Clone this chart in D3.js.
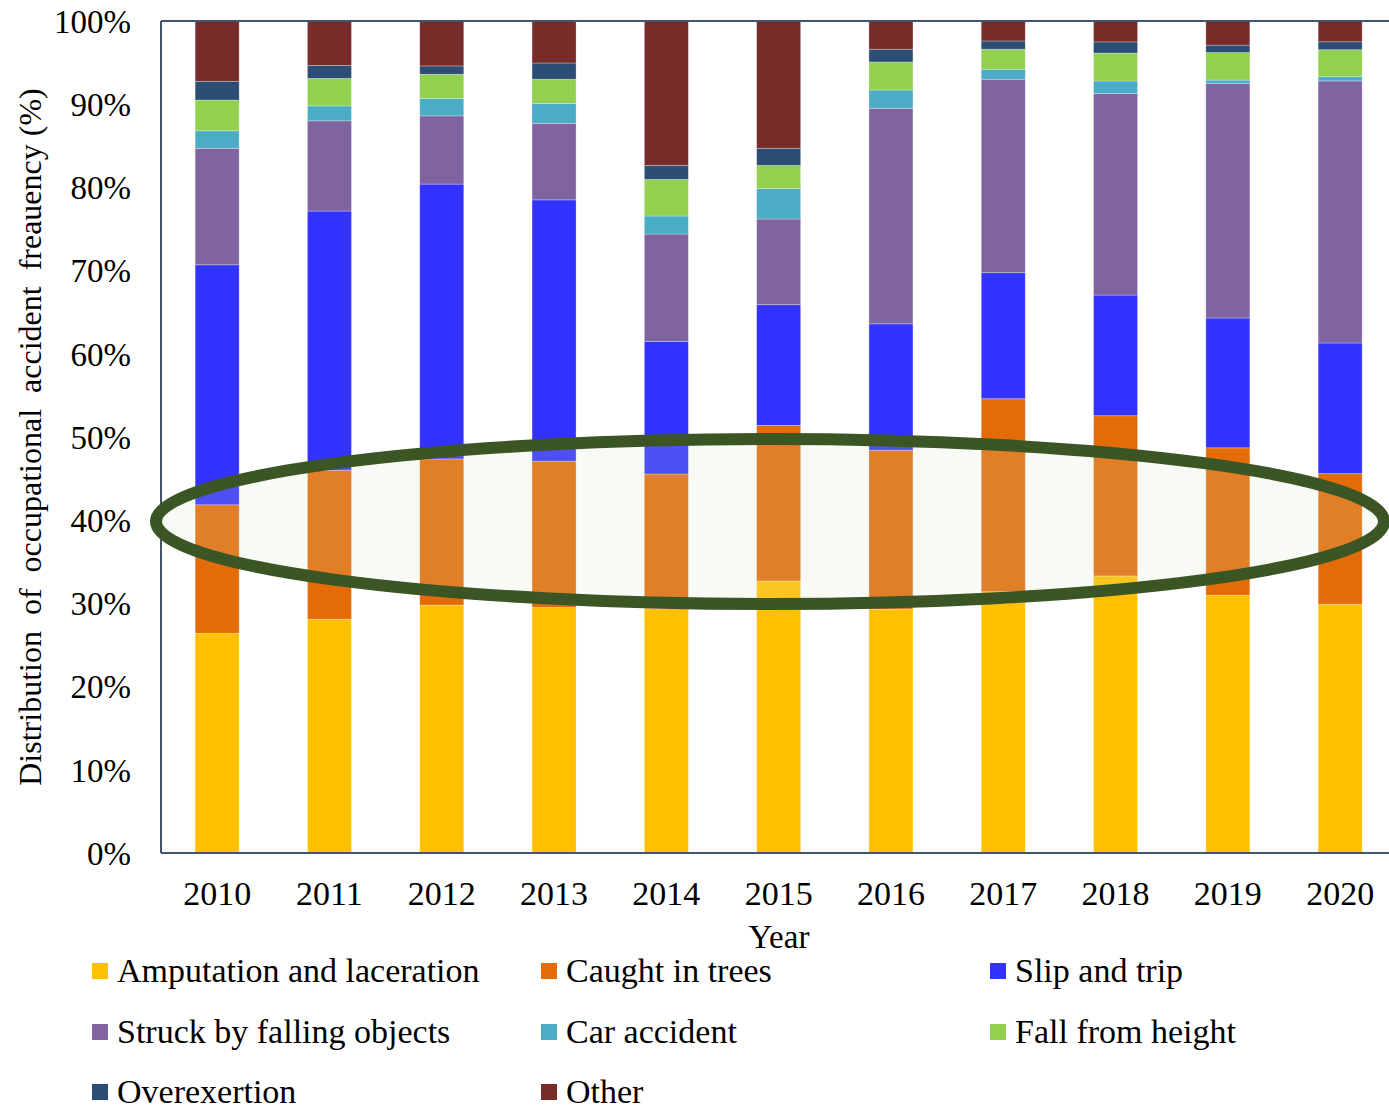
<!DOCTYPE html>
<html>
<head>
<meta charset="utf-8">
<script src="https://cdn.jsdelivr.net/npm/d3@7"></script>
<style>
  html, body { margin: 0; padding: 0; background: #ffffff; }
  svg { display: block; }
  text { font-family: "Liberation Serif", "Times New Roman", serif; fill: #000; }
</style>
</head>
<body>
<svg id="chart" width="1389" height="1109"></svg>
<script>
// ---- data (percent of accidents per year) ----
const years = ["2010","2011","2012","2013","2014","2015","2016","2017","2018","2019","2020"];
const seriesNames = ["Amputation and laceration","Caught in trees","Slip and trip","Struck by falling objects","Car accident","Fall from height","Overexertion","Other"];
const seriesColors = ["#ffc000","#e36c09","#3333ff","#8064a2","#4bacc6","#92d050","#2c4d75","#772c2a"];

const amputation = [26.4, 28.1, 29.8, 29.5, 29.4, 32.7, 29.3, 31.4, 33.3, 31.0, 29.9];
const caughtInTrees = [15.45, 17.9, 17.56, 17.6, 16.15, 18.7, 19.1, 23.2, 19.26, 17.7, 15.7];
const slipAndTrip = [28.85, 31.16, 33.04, 31.4, 15.95, 14.5, 15.2, 15.15, 14.5, 15.6, 15.7];
const struckByObjects = [14.0, 10.84, 8.2, 9.2, 12.9, 10.3, 25.9, 23.25, 24.23, 28.2, 31.5];
const carAccident = [2.1, 1.8, 2.1, 2.4, 2.16, 3.65, 2.2, 1.2, 1.5, 0.4, 0.5];
const fallFromHeight = [3.7, 3.3, 2.9, 2.9, 4.4, 2.8, 3.37, 2.4, 3.35, 3.3, 3.25];
const overexertion = [2.25, 1.56, 1.0, 1.95, 1.69, 2.05, 1.53, 1.0, 1.35, 0.9, 0.95];
const other = [7.25, 5.34, 5.4, 5.05, 17.35, 15.3, 3.4, 2.4, 2.5, 2.9, 2.5];

const yTicks = [0,10,20,30,40,50,60,70,80,90,100];
const xTitle = "Year";
const yTitle = "Distribution  of  occupational  accident  freauency (%)";

// ---- build table ----
const seriesValues = [amputation, caughtInTrees, slipAndTrip, struckByObjects, carAccident, fallFromHeight, overexertion, other];
const table = years.map((y, i) => {
  const row = { year: y };
  seriesNames.forEach((s, k) => { row[s] = seriesValues[k][i]; });
  return row;
});

const svg = d3.select("#chart");
const plot = { left: 161, right: 1396.3, top: 21, bottom: 853 };

const x = d3.scaleBand().domain(years).range([plot.left, plot.right])
  .paddingInner(0.608).paddingOuter(0.304);
const y = d3.scaleLinear().domain([0, 100]).range([plot.bottom, plot.top]);
const color = d3.scaleOrdinal().domain(seriesNames).range(seriesColors);

const stacked = d3.stack().keys(seriesNames)(table);

// bars
svg.append("g").selectAll("g").data(stacked).join("g")
  .attr("fill", d => color(d.key))
  .selectAll("rect").data(d => d).join("rect")
  .attr("x", d => x(d.data.year))
  .attr("width", x.bandwidth())
  .attr("y", d => y(d[1]))
  .attr("height", d => y(d[0]) - y(d[1]))
  .attr("stroke", "rgba(255,255,255,0.35)")
  .attr("stroke-width", 0.8);

// frame
const frame = svg.append("g").attr("stroke", "#44546a").attr("stroke-width", 2).attr("fill", "none");
frame.append("line").attr("x1", plot.left).attr("x2", 1389).attr("y1", plot.top).attr("y2", plot.top);
frame.append("line").attr("x1", plot.left).attr("x2", 1389).attr("y1", plot.bottom).attr("y2", plot.bottom);
frame.append("line").attr("x1", plot.left).attr("x2", plot.left).attr("y1", plot.top).attr("y2", plot.bottom);

// y axis
const yAxis = d3.axisLeft(y).tickValues(yTicks).tickFormat(d => d + "%").tickSize(0).tickPadding(30);
const gy = svg.append("g").attr("transform", `translate(${plot.left},0)`).call(yAxis);
gy.select(".domain").remove();
gy.selectAll("text").style("font-size", "33px").style("font-family", "Liberation Serif, serif").attr("dy", "0.34em");

// x axis
const xAxis = d3.axisBottom(x).tickSize(0).tickPadding(30);
const gx = svg.append("g").attr("transform", `translate(0,${plot.bottom})`).call(xAxis);
gx.select(".domain").remove();
gx.selectAll("text").style("font-size", "34px").style("font-family", "Liberation Serif, serif").attr("dy", "0.71em").attr("y", 28);

// axis titles
svg.append("text").attr("x", 779).attr("y", 948).attr("text-anchor", "middle")
  .style("font-size", "33px").text(xTitle);
svg.append("text").attr("transform", "translate(41,437) rotate(-90)").attr("text-anchor", "middle")
  .style("font-size", "32px").style("white-space", "pre").attr("xml:space", "preserve").text(yTitle);

// highlight ellipse
svg.append("ellipse").attr("cx", 770).attr("cy", 521.5).attr("rx", 614).attr("ry", 82.5)
  .attr("fill", "rgb(214,226,196)").attr("fill-opacity", 0.17)
  .attr("stroke", "#3b5624").attr("stroke-width", 12);

// legend
const legendCols = [92, 541, 990];
const legendRows = [982, 1043, 1103];
const lg = svg.append("g").selectAll("g").data(seriesNames).join("g")
  .attr("transform", (d, i) => `translate(${legendCols[i % 3]},${legendRows[Math.floor(i / 3)]})`);
lg.append("rect").attr("x", 0).attr("y", -19).attr("width", 16).attr("height", 16).attr("fill", d => color(d));
lg.append("text").attr("x", 25).attr("y", 0).style("font-size", "34px").text(d => d);
</script>
</body>
</html>
